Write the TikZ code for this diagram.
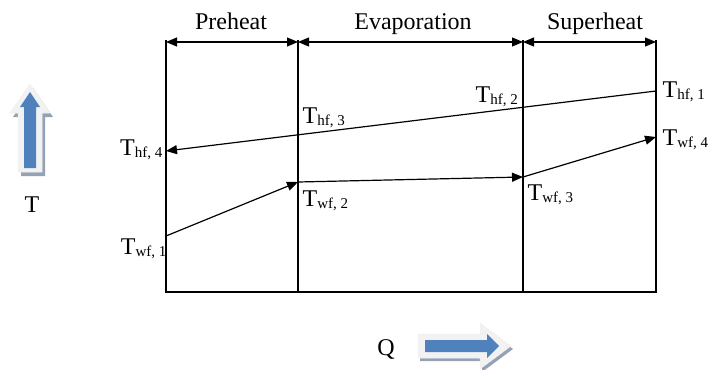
\documentclass[tikz,border=0pt]{standalone}
\usepackage{fontspec}
\setmainfont{Liberation Serif}
\usetikzlibrary{arrows.meta}
\definecolor{arrblue}{HTML}{4F81BD}
\definecolor{arrlight}{HTML}{F2F2F2}
\definecolor{arrshadow}{HTML}{95A1B5}
\newcommand{\Tsub}[1]{T\raisebox{-2pt}{\fontsize{15}{15}\selectfont #1}}
\begin{document}
\begin{tikzpicture}[x=1pt,y=-1pt,line width=1.2pt,
  tipend/.style={-{Triangle[length=11pt,width=9pt]}},
  dimline/.style={{Triangle[length=11pt,width=9pt]}-{Triangle[length=11pt,width=9pt]}},
  lbl/.style={inner sep=0pt,font=\fontsize{24}{24}\selectfont},
  hdr/.style={inner sep=0pt,font=\fontsize{24}{24}\selectfont,anchor=base},
  outerarrow/.style={fill=arrlight,draw=black!6,line width=0.5pt},
  shadowarrow/.style={fill=arrshadow,draw=none},
  bluearrow/.style={fill=arrblue,draw=none}]
\useasboundingbox (0,0) rectangle (708,369);

% frame coordinates
\coordinate (a0) at (166,40); \coordinate (a1) at (166,292);
\coordinate (b0) at (298,40); \coordinate (b1) at (298,292);
\coordinate (c0) at (523,40); \coordinate (c1) at (523,292);
\coordinate (d0) at (656,40); \coordinate (d1) at (656,292);
\coordinate (ta) at (166,42); \coordinate (tb) at (298,42);
\coordinate (tc) at (523,42); \coordinate (td) at (656,42);

\draw (a0) -- (a1) -- (d1) -- (d0);
\draw (b0) -- (b1);
\draw (c0) -- (c1);

\draw[dimline] (ta) -- (tb);
\draw[dimline] (tb) -- (tc);
\draw[dimline] (tc) -- (td);

\node[hdr] (preheat) at (231,30) {Preheat};
\node[hdr] (evap) at (413,30) {Evaporation};
\node[hdr] (superheat) at (595,30) {Superheat};

% hot fluid
\coordinate (h1) at (656,91);
\coordinate (h4) at (166,151);
\draw[tipend] (h1) -- (h4);

% working fluid
\coordinate (w1) at (166,236);
\coordinate (w2) at (298,182);
\coordinate (w3) at (523,177);
\coordinate (w4) at (656,137);
\draw[tipend] (w1) -- (w2);
\draw[tipend] (w2) -- (w3);
\draw[tipend] (w3) -- (w4);

% labels
\node[lbl,anchor=base west] (Thf1) at (662,97) {\Tsub{hf, 1}};
\node[lbl,anchor=base west] (Thf2) at (475,102) {\Tsub{hf, 2}};
\node[lbl,anchor=base west] (Thf3) at (302,123) {\Tsub{hf, 3}};
\node[lbl,anchor=base east] (Thf4) at (163,155) {\Tsub{hf, 4}};
\node[lbl,anchor=base east] (Twf1) at (167,254) {\Tsub{wf, 1}};
\node[lbl,anchor=base west] (Twf2) at (302,206) {\Tsub{wf, 2}};
\node[lbl,anchor=base west] (Twf3) at (527,200) {\Tsub{wf, 3}};
\node[lbl,anchor=base west] (Twf4) at (662,145) {\Tsub{wf, 4}};

\node[lbl,anchor=base] (Tax) at (32,212) {T};
\node[lbl,anchor=base] (Qax) at (386,355) {Q};

% up block arrow
\fill[shadowarrow,shift={(3,4)}] (18,172) -- (18,113) -- (10,113) -- (30,84) -- (50,113) -- (42,113) -- (42,172) -- cycle;
\path[outerarrow] (18,172) -- (18,113) -- (10,113) -- (30,84) -- (50,113) -- (42,113) -- (42,172) -- cycle;
\fill[bluearrow] (24,168) -- (24,107) -- (20,107) -- (30,92) -- (40,107) -- (36,107) -- (36,168) -- cycle;

% right block arrow
\fill[shadowarrow,shift={(2,3)}] (418,334) -- (480,334) -- (480,323) -- (511,346) -- (480,369) -- (480,358) -- (418,358) -- cycle;
\path[outerarrow] (418,334) -- (480,334) -- (480,323) -- (511,346) -- (480,369) -- (480,358) -- (418,358) -- cycle;
\fill[bluearrow] (425,340) -- (487,340) -- (487,334) -- (499,346) -- (487,358) -- (487,352) -- (425,352) -- cycle;
\end{tikzpicture}
\end{document}
